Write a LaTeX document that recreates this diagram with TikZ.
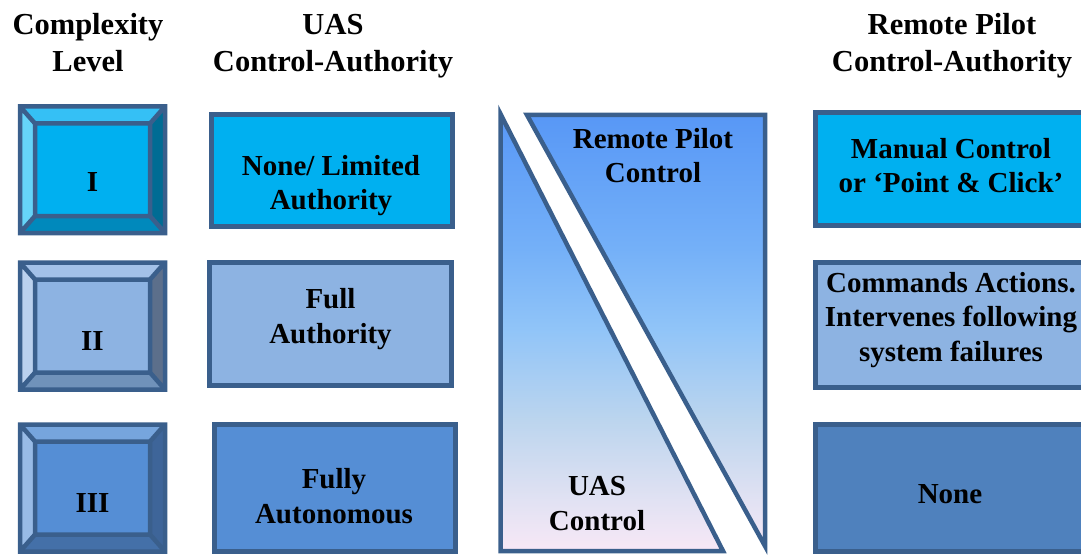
\documentclass[tikz,border=0pt]{standalone}
\usepackage{fontspec}
\setmainfont{Liberation Serif}
\begin{document}
% outline and fill colours
\definecolor{edgeblue}{HTML}{3A5F8C}
\definecolor{cyanface}{HTML}{00B0F0}
\definecolor{paleface}{HTML}{8DB3E2}
\definecolor{midface}{HTML}{558ED5}
\definecolor{deepface}{HTML}{4F81BD}
% bevel colours, level I
\definecolor{lvAface}{HTML}{00B0F0}
\definecolor{lvAtop}{HTML}{35C0F5}
\definecolor{lvAleft}{HTML}{66D4F8}
\definecolor{lvAright}{HTML}{006C94}
\definecolor{lvAbottom}{HTML}{0089BC}
% level II
\definecolor{lvBface}{HTML}{8DB3E2}
\definecolor{lvBtop}{HTML}{A3C1E8}
\definecolor{lvBleft}{HTML}{BBD1EE}
\definecolor{lvBright}{HTML}{5C6F8B}
\definecolor{lvBbottom}{HTML}{7092BA}
% level III
\definecolor{lvCface}{HTML}{558ED5}
\definecolor{lvCtop}{HTML}{76A5DD}
\definecolor{lvCleft}{HTML}{98BBE6}
\definecolor{lvCright}{HTML}{3E6599}
\definecolor{lvCbottom}{HTML}{4470A8}
% vertical gradient of the split panel
\definecolor{sbA}{HTML}{F8E8F6}
\definecolor{sbB}{HTML}{E2E2F3}
\definecolor{sbC}{HTML}{BCD5EE}
\definecolor{sbD}{HTML}{90C4F8}
\definecolor{sbE}{HTML}{74B0F8}
\definecolor{sbF}{HTML}{5797F6}
\pgfdeclareverticalshading{pilotshade}{100bp}{color(0bp)=(sbA); color(25bp)=(sbA);
  color(30.8bp)=(sbB); color(40bp)=(sbC); color(50.5bp)=(sbD); color(59.5bp)=(sbE);
  color(75bp)=(sbF); color(100bp)=(sbF)}
% bevelled level box: #1 top, #2 bottom, #3 colour prefix
\newcommand\levelbox[3]{%
  \fill[#3top] (20,#1) -- (165,#1) -- (150,#1+17) -- (35,#1+17) -- cycle;
  \fill[#3right] (165,#1) -- (165,#2) -- (150,#2-17) -- (150,#1+17) -- cycle;
  \fill[#3bottom] (20,#2) -- (165,#2) -- (150,#2-17) -- (35,#2-17) -- cycle;
  \fill[#3left] (20,#1) -- (20,#2) -- (35,#2-17) -- (35,#1+17) -- cycle;
  \fill[#3face] (35,#1+17) rectangle (150,#2-17);
  \draw[edge] (20,#1) rectangle (165,#2) (35,#1+17) rectangle (150,#2-17)
    (20,#1) -- (35,#1+17) (165,#1) -- (150,#1+17)
    (165,#2) -- (150,#2-17) (20,#2) -- (35,#2-17);
}
\begin{tikzpicture}[x=1pt,y=-1pt,
  edge/.style={draw=edgeblue,line width=4.5pt},
  panel/.style={edge,line width=5pt},
  lbl/.style={font=\bfseries\fontsize{29}{34.5}\selectfont,align=center,inner sep=0pt,anchor=base},
  hdr/.style={font=\bfseries\fontsize{30.5}{37}\selectfont,align=center,inner sep=0pt,anchor=base}]
\useasboundingbox (0,0) rectangle (1081,556);
\begin{scope}
\clip (0,0) rectangle (1081,556);

% column headings (placed by the baseline of their last line)
\node[hdr] (hLevel) at (88,72) {Complexity\\Level};
\node[hdr] (hUas) at (333,72) {UAS\\Control-Authority};
\node[hdr] (hPilot) at (952,72) {Remote Pilot\\Control-Authority};

% complexity levels
\levelbox{106.5}{233}{lvA}
\levelbox{262.5}{389.5}{lvB}
\levelbox{424.5}{551.5}{lvC}
\node[lbl] (lvI) at (92.5,192) {I};
\node[lbl] (lvII) at (92.5,350) {II};
\node[lbl] (lvIII) at (92.5,512) {III};

% UAS control authority
\draw[panel,fill=cyanface] (211.5,114.5) rectangle (452.5,226.5);
\draw[panel,fill=paleface] (209.5,262.5) rectangle (451.5,385.5);
\draw[panel,fill=midface] (214.5,424.5) rectangle (455.5,551.5);
\node[lbl] (uasA) at (331,210) {None/ Limited\\Authority};
\node[lbl] (uasB) at (330.5,343) {Full\\Authority};
\node[lbl] (uasC) at (334,523) {Fully\\Autonomous};

% split panel: UAS control below, remote pilot control above
\begin{scope}
\clip (500.5,114) -- (723,551) -- (500.5,551) -- cycle;
\shade[shading=pilotshade] (498,112) rectangle (768,553);
\end{scope}
\begin{scope}
\clip (527,115) -- (765,115) -- (765,546) -- cycle;
\shade[shading=pilotshade] (498,112) rectangle (768,553);
\end{scope}
\draw[edge] (500.5,114) -- (723,551) -- (500.5,551) -- cycle;
\draw[edge] (527,115) -- (765,115) -- (765,546) -- cycle;
\node[lbl] (rpc) at (653,183) {Remote Pilot\\Control};
\node[lbl] (uasc) at (597,530) {UAS\\Control};

% remote pilot control authority
\draw[panel,fill=cyanface] (815.5,112.5) rectangle (1090,225.5);
\draw[panel,fill=paleface] (815.5,262.5) rectangle (1090,387.5);
\draw[panel,fill=deepface] (815.5,424.5) rectangle (1090,551.5);
\node[lbl] (rpA) at (951,193) {Manual Control\\or ‘Point \& Click’};
\node[lbl] (rpB) at (951,361) {Commands Actions.\\Intervenes following\\system failures};
\node[lbl] (rpC) at (950,503) {None};
\end{scope}
\end{tikzpicture}
\end{document}
